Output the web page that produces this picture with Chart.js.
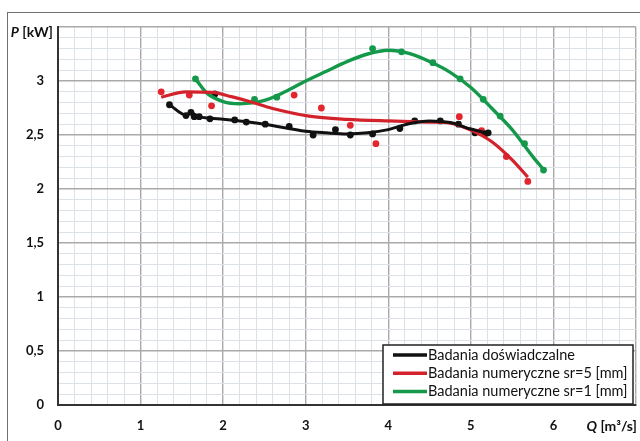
<!DOCTYPE html>
<html>
<head>
<meta charset="utf-8">
<script src="https://cdn.jsdelivr.net/npm/chart.js@4"></script>
<style>
   body{ margin:0; background:#fff; overflow:hidden; }
   #wrap{ position:relative; width:640px; height:441px; }
   #frame{ position:absolute; left:7px; top:12px; width:700px; height:500px;
           border:1.5px solid #6f6f6f; }
   #chart{ position:absolute; left:0; top:0; }
</style>
</head>
<body>
<div id="wrap">
   <div id="frame"></div>
   <canvas id="chart" width="640" height="441"></canvas>
</div>
<script>

/* dane */
const seriesNames = [
   "Badania doświadczalne",
   "Badania numeryczne sr=5 [mm]",
   "Badania numeryczne sr=1 [mm]"
];
const seriesColors = ["#111111", "#d2232c", "#14994b"];

const blackQ = [1.35,1.55,1.61,1.65,1.71,1.84,1.90,2.14,2.28,2.51,2.80,3.09,3.36,3.54,3.81,4.14,4.32,4.63,4.85,5.05,5.17,5.21];
const blackP = [2.78,2.68,2.71,2.67,2.67,2.65,2.88,2.64,2.62,2.60,2.58,2.50,2.55,2.50,2.51,2.56,2.63,2.63,2.60,2.52,2.51,2.52];
const blackCurveQ = [1.35,1.55,1.61,1.7,1.85,2.0,2.5,3.0,3.25,3.5,3.75,4.0,4.25,4.5,4.75,5.0,5.21];
const blackCurveP = [2.78,2.685,2.705,2.67,2.655,2.645,2.60,2.535,2.52,2.51,2.52,2.55,2.605,2.63,2.615,2.555,2.515];

const redQ = [1.25,1.59,1.86,2.86,3.19,3.54,3.85,4.86,5.13,5.43,5.69];
const redP = [2.90,2.87,2.77,2.87,2.75,2.59,2.42,2.67,2.54,2.30,2.07];
const redCurveQ = [1.25,1.55,1.87,2.1,2.32,2.6,3.04,3.5,4.0,4.5,4.75,5.0,5.25,5.5,5.69];
const redCurveP = [2.85,2.90,2.895,2.855,2.81,2.745,2.675,2.645,2.63,2.62,2.61,2.545,2.44,2.27,2.11];

const greenQ = [1.665,2.38,2.65,3.81,4.16,4.54,4.87,5.15,5.355,5.65,5.88];
const greenP = [3.02,2.83,2.85,3.30,3.27,3.17,3.02,2.83,2.675,2.42,2.175];
const greenCurveQ = [1.665,1.8,2.0,2.2,2.5,2.75,3.0,3.25,3.5,3.75,4.0,4.25,4.5,4.75,5.0,5.25,5.5,5.75,5.88];
const greenCurveP = [3.02,2.89,2.81,2.79,2.82,2.90,3.00,3.09,3.18,3.25,3.285,3.255,3.18,3.08,2.94,2.75,2.55,2.30,2.18];

const xMax = 7, yMax = 3.5;
const xTickLabels = ["0","1","2","3","4","5","6"];
const yTickLabels = ["0","0,5","1","1,5","2","2,5","3"];

function pts(qs, ps){
   return qs.map((q,i)=>({x:q, y:ps[i]}));
}

function isMult(v, step){
   let r = v / step;
   return Math.abs(r - Math.round(r)) < 1e-6;
}

function curve(qs, ps, color, w){
   return {
      data: pts(qs, ps),
      showLine: true,
      borderColor: color,
      borderWidth: w,
      pointRadius: 0,
      cubicInterpolationMode: "monotone"
   };
}

function dots(qs, ps, color){
   return {
      data: pts(qs, ps),
      showLine: false,
      backgroundColor: color,
      borderColor: color,
      pointRadius: 3.4,
      borderWidth: 0
   };
}

/* podpisy osi + legenda */
const extraText = {
   id: "extraText",
   afterDraw(chart){
      const ctx = chart.ctx;
      const a = chart.chartArea;
      ctx.save();
      ctx.fillStyle = "#111";
      ctx.textBaseline = "middle";

      // P [kW]
      ctx.font = "bold 14px Lato";
      let unitY = " [kW]";
      let wU = ctx.measureText(unitY).width;
      ctx.textAlign = "right";
      ctx.fillText(unitY, 53, a.top + 5);
      ctx.font = "italic bold 14px Lato";
      ctx.fillText("P", 53 - wU, a.top + 5);

      // Q [m³/s]
      ctx.font = "bold 14px Lato";
      let unitX = " [m³/s]";
      let wX = ctx.measureText(unitX).width;
      ctx.fillText(unitX, a.right + 1, a.bottom + 21);
      ctx.font = "italic bold 14px Lato";
      ctx.fillText("Q", a.right + 1 - wX, a.bottom + 21);

      // legenda
      let bx = a.right - 253, by = a.bottom - 60, bw = 250, bh = 59;
      ctx.fillStyle = "#fff";
      ctx.fillRect(bx, by, bw, bh);
      ctx.strokeStyle = "#222";
      ctx.lineWidth = 1.5;
      ctx.strokeRect(bx, by, bw, bh);
      ctx.font = "14.5px Lato";
      ctx.textAlign = "left";
      seriesNames.forEach(function(name, i){
         let ry = by + 10 + i * 18.3;
         ctx.strokeStyle = seriesColors[i];
         ctx.lineWidth = 3.5;
         ctx.beginPath();
         ctx.moveTo(bx + 10, ry);
         ctx.lineTo(bx + 44, ry);
         ctx.stroke();
         ctx.fillStyle = "#111";
         ctx.fillText(name, bx + 45, ry);
      });
      ctx.restore();
   }
};

const gridColor = (step, major) => function(c){
   if(!c.tick) return "#dde2e8";
   return isMult(c.tick.value, step) ? major : "#dce1e8";
};

new Chart(document.getElementById("chart"), {
   type: "scatter",
   data: {
      datasets: [
         curve(blackCurveQ, blackCurveP, seriesColors[0], 3),
         curve(redCurveQ, redCurveP, seriesColors[1], 3.2),
         curve(greenCurveQ, greenCurveP, seriesColors[2], 3.4),
         dots(blackQ, blackP, seriesColors[0]),
         dots(redQ, redP, "#e3262d"),
         dots(greenQ, greenP, seriesColors[2])
      ]
   },
   options: {
      responsive: false,
      animation: false,
      layout: { padding: { left: 8, top: 27, right: 2, bottom: 0 } },
      plugins: {
         legend: { display: false },
         tooltip: { enabled: false }
      },
      scales: {
         x: {
            type: "linear",
            min: 0,
            max: xMax,
            afterFit: function(s){
               s.height = 36;
               s.paddingLeft = 0;
               s.paddingRight = 0;
            },
            border: { color: "#333", width: 2 },
            grid: {
               drawTicks: false,
               color: gridColor(1, "#a9a9a9"),
               lineWidth: c => (c.tick && isMult(c.tick.value,1)) ? 1.4 : 1
            },
            ticks: {
               stepSize: 0.2,
               autoSkip: false,
               maxRotation: 0,
               padding: 13,
               color: "#111",
               font: { family: "Lato", size: 13, weight: "bold" },
               callback: function(v){
                  if(!isMult(v,1)) return "";
                  let i = Math.round(v);
                  return i < xTickLabels.length ? xTickLabels[i] : "";
               }
            }
         },
         y: {
            min: 0,
            max: yMax,
            afterFit: function(s){
               s.width = 50;
               s.paddingTop = 0;
               s.paddingBottom = 0;
            },
            border: { color: "#333", width: 2 },
            grid: {
               drawTicks: false,
               color: gridColor(0.5, "#a9a9a9"),
               lineWidth: c => (c.tick && isMult(c.tick.value,0.5)) ? 1.4 : 1
            },
            ticks: {
               stepSize: 0.1,
               autoSkip: false,
               padding: 14,
               color: "#111",
               font: { family: "Lato", size: 13, weight: "bold" },
               callback: function(v){
                  if(!isMult(v,0.5)) return "";
                  let i = Math.round(v / 0.5);
                  return i < yTickLabels.length ? yTickLabels[i] : "";
               }
            }
         }
      }
   },
   plugins: [extraText]
});

</script>
</body>
</html>
